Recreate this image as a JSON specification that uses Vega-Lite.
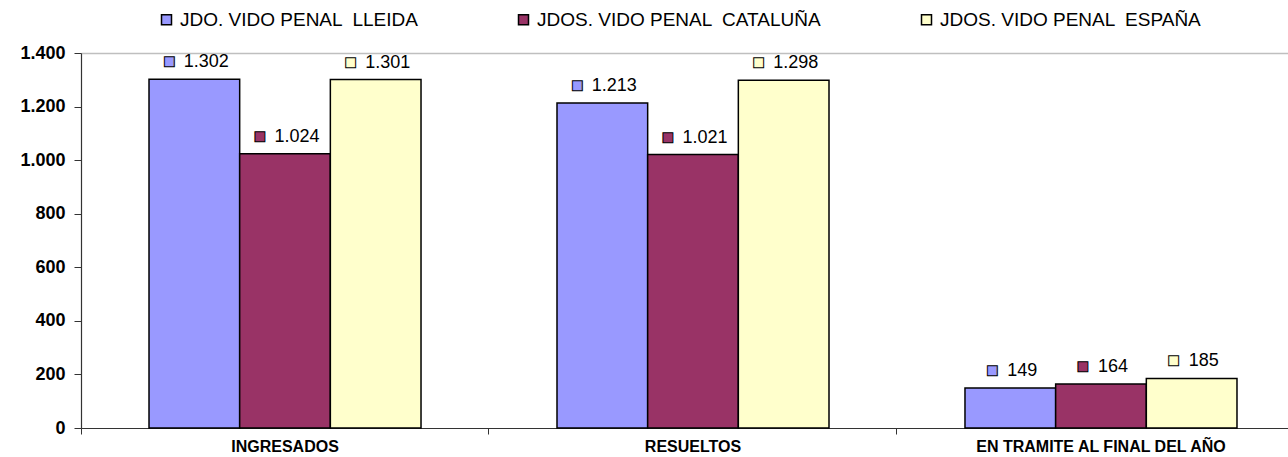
{
  "$schema": "https://vega.github.io/schema/vega-lite/v6.json",
  "width": 1207,
  "height": 375,
  "autosize": {"type": "none"},
  "padding": {"left": 81, "top": 53, "right": 0, "bottom": 29},
  "config": {
    "locale": {"number": {"decimal": ",", "thousands": ".", "grouping": [3], "currency": ["", " €"]}},
    "view": {"stroke": null},
    "font": "Liberation Sans"
  },
  "data": {"values": [
    {"categoria": "INGRESADOS", "serie": "JDO. VIDO PENAL  LLEIDA", "valor": 1302},
    {"categoria": "INGRESADOS", "serie": "JDOS. VIDO PENAL  CATALUÑA", "valor": 1024},
    {"categoria": "INGRESADOS", "serie": "JDOS. VIDO PENAL  ESPAÑA", "valor": 1301},
    {"categoria": "RESUELTOS", "serie": "JDO. VIDO PENAL  LLEIDA", "valor": 1213},
    {"categoria": "RESUELTOS", "serie": "JDOS. VIDO PENAL  CATALUÑA", "valor": 1021},
    {"categoria": "RESUELTOS", "serie": "JDOS. VIDO PENAL  ESPAÑA", "valor": 1298},
    {"categoria": "EN TRAMITE AL FINAL DEL AÑO", "serie": "JDO. VIDO PENAL  LLEIDA", "valor": 149},
    {"categoria": "EN TRAMITE AL FINAL DEL AÑO", "serie": "JDOS. VIDO PENAL  CATALUÑA", "valor": 164},
    {"categoria": "EN TRAMITE AL FINAL DEL AÑO", "serie": "JDOS. VIDO PENAL  ESPAÑA", "valor": 185}
  ]},
  "encoding": {
    "x": {
      "field": "categoria", "type": "nominal",
      "sort": ["INGRESADOS", "RESUELTOS", "EN TRAMITE AL FINAL DEL AÑO"],
      "scale": {"range": [0, 1224], "paddingInner": 0.3333, "paddingOuter": 0.1667},
      "axis": {
        "title": null, "labelAngle": 0, "labelFontWeight": "bold", "labelFontSize": 16,
        "labelColor": "black", "labelPadding": 4, "ticks": true, "tickSize": 6,
        "tickColor": "#333333", "bandPosition": -0.25, "labelLimit": 0,
        "domainColor": "#333333", "domainWidth": 1.2
      }
    },
    "xOffset": {
      "field": "serie", "type": "nominal",
      "sort": ["JDO. VIDO PENAL  LLEIDA", "JDOS. VIDO PENAL  CATALUÑA", "JDOS. VIDO PENAL  ESPAÑA"],
      "scale": {"paddingInner": 0, "paddingOuter": 0}
    },
    "y": {
      "field": "valor", "type": "quantitative",
      "scale": {"domain": [0, 1400]},
      "axis": {
        "title": null, "values": [0, 200, 400, 600, 800, 1000, 1200, 1400], "format": ",d",
        "labelFontWeight": "bold", "labelFontSize": 18, "labelColor": "black", "labelPadding": 9,
        "tickSize": 7, "tickColor": "#333333", "domainColor": "#333333", "domainWidth": 1.2,
        "grid": true, "gridColor": "#bfbfbf", "gridWidth": 1.5,
        "gridOpacity": {"condition": {"test": "datum.value == 1400", "value": 1}, "value": 0}
      }
    }
  },
  "layer": [
    {
      "mark": {"type": "bar", "stroke": "black", "strokeWidth": 1.5},
      "encoding": {
        "color": {
          "field": "serie", "type": "nominal",
          "scale": {
            "domain": ["JDO. VIDO PENAL  LLEIDA", "JDOS. VIDO PENAL  CATALUÑA", "JDOS. VIDO PENAL  ESPAÑA"],
            "range": ["#9999FF", "#993366", "#FFFFCC"]
          },
          "legend": {
            "orient": "none", "legendX": 76, "legendY": -43, "direction": "horizontal", "columns": 3,
            "title": null, "padding": 0, "symbolType": "square", "symbolSize": 100,
            "symbolStrokeColor": "black", "symbolStrokeWidth": 1.5, "labelFontSize": 19,
            "labelColor": "black", "labelOffset": 4, "columnPadding": 95, "labelLimit": 500,
            "labelExpr": "replace(datum.label, '  ', ' \u00a0')"
          }
        }
      }
    },
    {
      "mark": {"type": "text", "text": "■", "font": "DejaVu Sans", "fontSize": 13,
               "stroke": "black", "strokeWidth": 1, "align": "center", "baseline": "middle",
               "dy": -18, "dx": {"expr": "datum.valor >= 1000 ? -25 : -18"}},
      "encoding": {
        "color": {"field": "serie", "type": "nominal", "legend": null}
      }
    },
    {
      "mark": {"type": "text", "dx": 12, "dy": -17, "fontSize": 18, "align": "center", "baseline": "middle", "color": "black"},
      "encoding": {
        "text": {"field": "valor", "type": "quantitative", "format": ",d"}
      }
    }
  ]
}
